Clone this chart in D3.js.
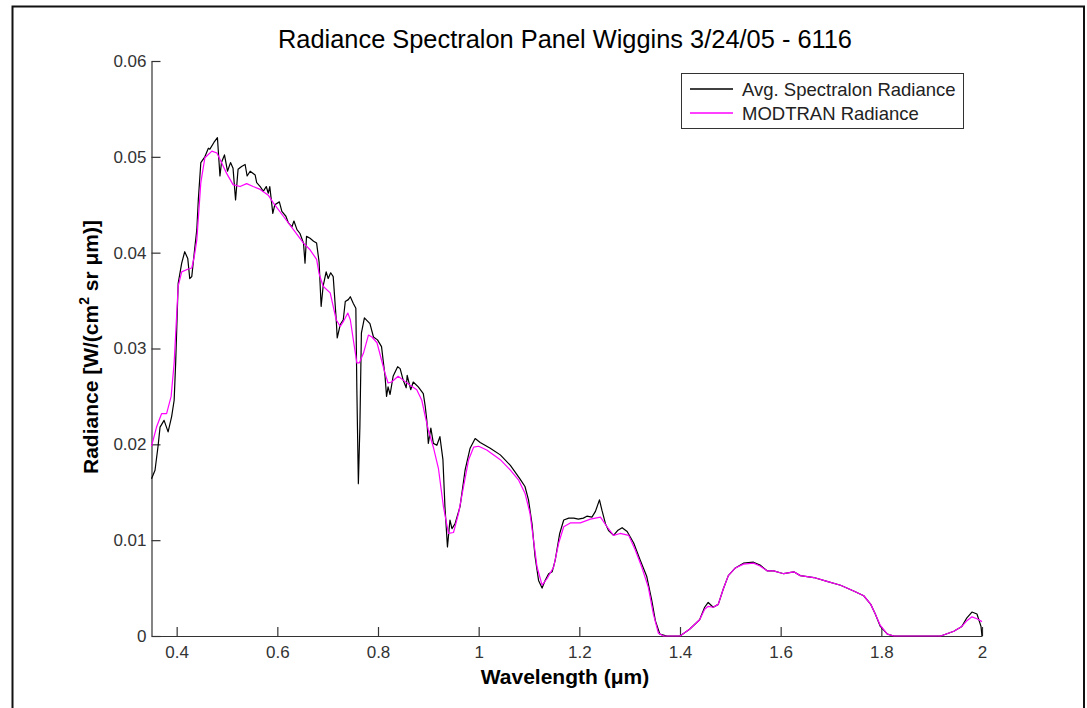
<!DOCTYPE html>
<html>
<head>
<meta charset="utf-8">
<script src="https://cdn.jsdelivr.net/npm/d3@7"></script>
<style>
  html, body { margin: 0; padding: 0; background: #fff; }
  svg { display: block; font-family: "Liberation Sans", Arial, sans-serif; }
</style>
</head>
<body>
<svg id="chart" width="1087" height="708"></svg>
<script>
// Measured spectral radiance of the Spectralon panel (averaged)
const spectralonWl = [
  0.350,0.357,0.363,0.367,0.375,0.383,0.390,0.395,0.398,0.403,0.410,0.416,0.422,0.426,0.430,0.435,0.440,
  0.443,0.448,0.456,0.463,0.466,0.474,0.481,0.486,0.489,0.495,0.501,0.507,0.512,0.517,0.522,0.529,0.536,
  0.540,0.546,0.556,0.559,0.566,0.572,0.578,0.582,0.585,0.591,0.595,0.604,0.609,0.617,0.622,0.629,0.633,
  0.639,0.645,0.652,0.655,0.658,0.665,0.672,0.678,0.683,0.687,0.691,0.697,0.701,0.706,0.711,0.717,0.719,
  0.725,0.731,0.735,0.741,0.745,0.751,0.756,0.758,0.761,0.764,0.767,0.773,0.784,0.791,0.799,0.807,0.814,
  0.817,0.820,0.824,0.830,0.839,0.844,0.850,0.856,0.858,0.865,0.870,0.880,0.890,0.894,0.897,0.900,0.905,
  0.910,0.917,0.923,0.929,0.933,0.938,0.943,0.947,0.953,0.963,0.973,0.983,0.993,1.003,1.023,1.043,1.063,
  1.082,1.092,1.099,1.106,1.112,1.119,1.126,1.132,1.139,1.146,1.152,1.161,1.169,1.179,1.189,1.198,1.208,
  1.215,1.225,1.232,1.240,1.245,1.252,1.258,1.268,1.276,1.285,1.295,1.308,1.321,1.334,1.344,1.351,1.360,
  1.374,1.400,1.419,1.439,1.449,1.456,1.466,1.476,1.486,1.496,1.510,1.526,1.546,1.559,1.573,1.586,1.599,
  1.606,1.626,1.639,1.666,1.692,1.719,1.745,1.765,1.779,1.788,1.798,1.812,1.825,1.918,1.944,1.960,1.970,
  1.980,1.990,1.998,2.000
];
const spectralonRad = [
  0.0164,0.0173,0.0198,0.0218,0.0225,0.0213,0.0229,0.0246,0.0285,0.0368,0.0389,0.0401,0.0394,0.0373,0.0375,0.0400,0.0424,
  0.0455,0.0494,0.0500,0.0509,0.0508,0.0515,0.0520,0.0480,0.0494,0.0502,0.0485,0.0494,0.0488,0.0455,0.0487,0.0490,0.0492,
  0.0480,0.0485,0.0481,0.0473,0.0469,0.0464,0.0469,0.0462,0.0469,0.0441,0.0450,0.0453,0.0443,0.0438,0.0431,0.0427,0.0433,
  0.0424,0.0420,0.0410,0.0389,0.0417,0.0415,0.0412,0.0410,0.0390,0.0344,0.0365,0.0380,0.0373,0.0379,0.0375,0.0330,0.0311,
  0.0325,0.0330,0.0349,0.0351,0.0354,0.0347,0.0342,0.0257,0.0159,0.0218,0.0316,0.0332,0.0326,0.0312,0.0309,0.0302,0.0271,
  0.0250,0.0260,0.0252,0.0271,0.0281,0.0279,0.0267,0.0259,0.0272,0.0257,0.0265,0.0260,0.0253,0.0239,0.0225,0.0201,0.0217,
  0.0201,0.0199,0.0208,0.0184,0.0135,0.0093,0.0121,0.0112,0.0117,0.0135,0.0173,0.0196,0.0206,0.0202,0.0196,0.0189,0.0178,
  0.0164,0.0156,0.0142,0.0117,0.0083,0.0058,0.0050,0.0058,0.0065,0.0067,0.0079,0.0107,0.0121,0.0123,0.0123,0.0122,0.0123,
  0.0125,0.0124,0.0130,0.0142,0.0131,0.0117,0.0110,0.0105,0.0110,0.0113,0.0109,0.0097,0.0079,0.0062,0.0037,0.0016,0.0002,
  0.0000,0.0000,0.0007,0.0017,0.0030,0.0035,0.0030,0.0033,0.0049,0.0063,0.0071,0.0076,0.0077,0.0074,0.0068,0.0068,0.0066,
  0.0065,0.0067,0.0063,0.0061,0.0057,0.0053,0.0047,0.0042,0.0033,0.0023,0.0010,0.0002,0.0000,0.0000,0.0005,0.0010,0.0019,
  0.0025,0.0023,0.0010,0.0000
];

// Modelled radiance from MODTRAN
const modtranWl = [
  0.350,0.360,0.370,0.380,0.389,0.395,0.403,0.410,0.423,0.430,0.435,0.440,0.448,0.456,0.470,0.480,0.489,
  0.499,0.512,0.526,0.539,0.552,0.566,0.582,0.592,0.612,0.632,0.652,0.665,0.678,0.683,0.691,0.705,0.711,
  0.717,0.725,0.731,0.740,0.745,0.751,0.758,0.763,0.771,0.781,0.788,0.798,0.807,0.814,0.820,0.827,0.840,
  0.850,0.863,0.877,0.887,0.894,0.900,0.910,0.920,0.930,0.940,0.950,0.960,0.970,0.980,0.990,1.000,1.016,
  1.043,1.063,1.079,1.092,1.102,1.109,1.116,1.126,1.136,1.149,1.159,1.169,1.182,1.202,1.222,1.242,1.255,
  1.268,1.281,1.298,1.311,1.324,1.337,1.347,1.357,1.367,1.400,1.419,1.439,1.449,1.456,1.466,1.476,1.486,
  1.496,1.510,1.526,1.546,1.559,1.573,1.586,1.599,1.606,1.626,1.639,1.666,1.692,1.719,1.745,1.765,1.779,
  1.788,1.798,1.812,1.825,1.918,1.944,1.960,1.970,1.980,1.990,2.000
];
const modtranRad = [
  0.0198,0.0218,0.0232,0.0232,0.0250,0.0285,0.0365,0.0380,0.0383,0.0384,0.0396,0.0413,0.0473,0.0499,0.0506,0.0504,0.0494,
  0.0483,0.0471,0.0469,0.0472,0.0469,0.0466,0.0460,0.0452,0.0438,0.0424,0.0410,0.0403,0.0393,0.0378,0.0365,0.0358,0.0344,
  0.0330,0.0323,0.0328,0.0337,0.0330,0.0309,0.0285,0.0285,0.0295,0.0314,0.0312,0.0306,0.0288,0.0274,0.0264,0.0265,0.0271,
  0.0267,0.0262,0.0257,0.0246,0.0229,0.0215,0.0197,0.0175,0.0135,0.0107,0.0108,0.0128,0.0156,0.0184,0.0197,0.0198,0.0194,
  0.0184,0.0173,0.0163,0.0149,0.0128,0.0100,0.0072,0.0053,0.0060,0.0072,0.0097,0.0114,0.0118,0.0118,0.0122,0.0124,0.0114,
  0.0105,0.0107,0.0105,0.0090,0.0072,0.0051,0.0023,0.0003,0.0000,0.0000,0.0007,0.0017,0.0028,0.0031,0.0030,0.0033,0.0049,
  0.0063,0.0071,0.0075,0.0076,0.0073,0.0068,0.0068,0.0066,0.0065,0.0067,0.0063,0.0061,0.0057,0.0053,0.0047,0.0042,0.0033,
  0.0023,0.0011,0.0002,0.0000,0.0000,0.0005,0.0010,0.0016,0.0020,0.0018,0.0015
];

const xTicks = [0.4, 0.6, 0.8, 1.0, 1.2, 1.4, 1.6, 1.8, 2.0];
const xTickLabels = ["0.4", "0.6", "0.8", "1", "1.2", "1.4", "1.6", "1.8", "2"];
const yTicks = [0, 0.01, 0.02, 0.03, 0.04, 0.05, 0.06];
const yTickLabels = ["0", "0.01", "0.02", "0.03", "0.04", "0.05", "0.06"];

const seriesNames = ["Avg. Spectralon Radiance", "MODTRAN Radiance"];
const seriesColors = ["#000000", "#ff00ff"];

const svg = d3.select("#chart");
const plot = { left: 151.5, right: 982, top: 61, bottom: 636 };

// Outer figure frame
svg.append("rect")
  .attr("x", 12.5).attr("y", 6.5)
  .attr("width", 1071.5).attr("height", 720)
  .attr("fill", "none").attr("stroke", "#111").attr("stroke-width", 2);

const x = d3.scaleLinear().domain([0.35, 2.0]).range([plot.left, plot.right]);
const y = d3.scaleLinear().domain([0, 0.06]).range([plot.bottom, plot.top]);

const xAxis = d3.axisBottom(x)
  .tickValues(xTicks)
  .tickFormat((d, i) => xTickLabels[i])
  .tickSizeInner(-9).tickSizeOuter(0).tickPadding(10);
const yAxis = d3.axisLeft(y)
  .tickValues(yTicks)
  .tickFormat((d, i) => yTickLabels[i])
  .tickSizeInner(-9).tickSizeOuter(0).tickPadding(5);

function styleAxis(g) {
  g.select(".domain").attr("stroke", "#333").attr("stroke-width", 1.2);
  g.selectAll(".tick line").attr("stroke", "#333").attr("stroke-width", 1.2);
  g.selectAll(".tick text")
    .attr("fill", "#333")
    .style("font-size", "17px")
    .style("font-family", "'Liberation Sans', Arial, sans-serif");
}

svg.append("g")
  .attr("transform", `translate(0,${plot.bottom})`)
  .call(xAxis).call(styleAxis);
svg.append("g")
  .attr("transform", `translate(${plot.left},0)`)
  .call(yAxis).call(styleAxis);

// Spectral curves
const line = d3.line().x(d => x(d[0])).y(d => y(d[1]));
const spectralon = spectralonWl.map((w, i) => [w, spectralonRad[i]]);
const modtran = modtranWl.map((w, i) => [w, modtranRad[i]]);

svg.append("path").datum(spectralon)
  .attr("d", line).attr("fill", "none")
  .attr("stroke", seriesColors[0]).attr("stroke-width", 1.2)
  .attr("stroke-linejoin", "round");
svg.append("path").datum(modtran)
  .attr("d", line).attr("fill", "none")
  .attr("stroke", seriesColors[1]).attr("stroke-width", 1.2)
  .attr("stroke-linejoin", "round");

// Title and axis labels
svg.append("text")
  .attr("x", 565).attr("y", 48)
  .attr("text-anchor", "middle")
  .style("font-size", "25.4px").attr("fill", "#000")
  .text("Radiance Spectralon Panel Wiggins 3/24/05 - 6116");

svg.append("text")
  .attr("x", 565).attr("y", 684)
  .attr("text-anchor", "middle")
  .style("font-size", "21px").style("font-weight", "bold").attr("fill", "#000")
  .text("Wavelength (\u03bcm)");

const yl = svg.append("text")
  .attr("transform", "translate(98,347) rotate(-90)")
  .attr("text-anchor", "middle")
  .style("font-size", "21px").style("font-weight", "bold").attr("fill", "#000");
yl.append("tspan").text("Radiance [W/(cm");
yl.append("tspan").attr("dy", -9).style("font-size", "14px").text("2");
yl.append("tspan").attr("dy", 9).text(" sr \u03bcm)]");

// Legend
const legend = svg.append("g");
legend.append("rect")
  .attr("x", 681.5).attr("y", 73.5).attr("width", 282).attr("height", 55)
  .attr("fill", "#fff").attr("stroke", "#333").attr("stroke-width", 1);
seriesNames.forEach((name, i) => {
  const ly = 89 + i * 24;
  legend.append("line")
    .attr("x1", 690).attr("x2", 733).attr("y1", ly).attr("y2", ly)
    .attr("stroke", seriesColors[i]).attr("stroke-width", 1.3);
  legend.append("text")
    .attr("x", 742).attr("y", ly + 6.5)
    .style("font-size", "18.5px").attr("fill", "#222")
    .text(name);
});
</script>
</body>
</html>
